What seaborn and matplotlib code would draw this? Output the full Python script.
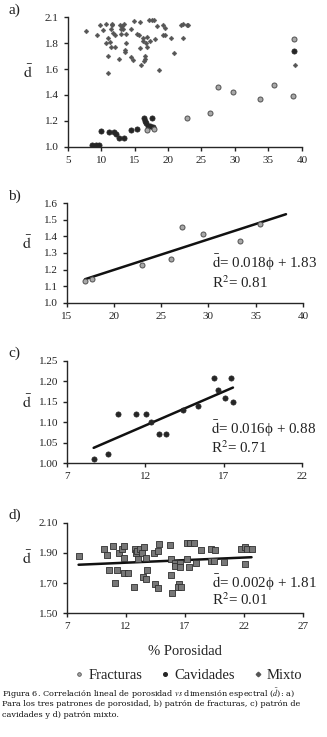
import numpy as np
import pandas as pd
import seaborn as sns
import matplotlib.pyplot as plt
from matplotlib.lines import Line2D

# ---- data ----
# panel a (all patterns)
a_frac_x = [16.9, 17.9, 22.9, 26.3, 27.4, 29.7, 33.7, 35.9, 38.7, 38.85]
a_frac_y = [1.13, 1.14, 1.22, 1.26, 1.46, 1.42, 1.37, 1.48, 1.39, 1.83]
a_cav_x = [8.6, 9.2, 9.7, 10.0, 11.2, 11.9, 12.2, 12.7, 13.4, 14.4, 15.4,
           16.4, 16.5, 16.7, 17.0, 17.3, 17.55, 17.7, 38.85]
a_cav_y = [1.01, 1.01, 1.01, 1.12, 1.11, 1.11, 1.10, 1.07, 1.07, 1.13, 1.14,
           1.22, 1.20, 1.18, 1.16, 1.16, 1.22, 1.15, 1.74]
a_mix_x = [7.8, 9.4, 9.9, 10.3, 10.8, 11.0, 11.0, 11.0, 10.7, 11.3, 11.4, 11.6,
           11.6, 11.5, 11.8, 12.0, 12.1, 12.6, 12.8, 12.9, 13.0, 13.1, 13.3, 13.4,
           13.5, 13.7, 13.7, 13.6, 14.4, 14.5, 14.7, 14.9, 15.3, 15.6, 15.8, 15.8,
           16.0, 16.2, 16.2, 16.4, 16.5, 16.6, 16.7, 16.8, 16.9, 17.1, 17.3, 17.6,
           17.9, 18.0, 18.4, 18.7, 19.2, 19.3, 19.5, 19.5, 20.4, 20.9, 22.0, 22.2,
           22.2, 22.8, 23.0, 38.95]
a_mix_y = [1.89, 1.86, 1.94, 1.90, 1.95, 1.84, 1.70, 1.57, 1.80, 1.81, 1.91, 1.95,
           1.94, 1.77, 1.88, 1.86, 1.77, 1.68, 1.94, 1.91, 1.87, 1.93, 1.91, 1.95,
           1.75, 1.87, 1.80, 1.73, 1.91, 1.69, 1.67, 1.97, 1.87, 1.86, 1.96, 1.76,
           1.63, 1.84, 1.82, 1.66, 1.68, 1.70, 1.80, 1.77, 1.85, 1.98, 1.82, 1.98,
           1.98, 1.83, 1.93, 1.59, 1.86, 1.94, 1.92, 1.86, 1.84, 1.72, 1.94, 1.95,
           1.84, 1.94, 1.94, 1.63]

# panel b: fracturas
frac_x = [16.94, 17.68, 22.92, 26.02, 27.18, 29.4, 33.3, 35.4]
frac_y = [1.133, 1.143, 1.225, 1.264, 1.455, 1.415, 1.374, 1.477]
frac_line_end = 38.2

# panel c: cavidades
cav_x = [8.7, 9.6, 10.25, 11.4, 12.05, 12.35, 12.9, 13.3, 14.4, 15.35, 16.4,
         16.65, 17.1, 17.5, 17.6]
cav_y = [1.01, 1.022, 1.12, 1.12, 1.12, 1.10, 1.072, 1.072, 1.13, 1.14, 1.208,
         1.178, 1.159, 1.208, 1.149]

# panel d: mixto
mix_x = [7.98, 10.15, 10.37, 10.88, 10.57, 11.1, 11.2, 11.44, 11.64, 11.8, 11.83,
         11.8, 12.2, 12.7, 12.79, 12.84, 12.96, 13.04, 13.18, 13.35, 13.46, 13.52,
         13.69, 13.74, 13.8, 14.39, 14.42, 14.72, 14.75, 14.84, 15.76, 15.82, 15.79,
         15.9, 16.16, 16.2, 16.48, 16.58, 16.58, 16.44, 16.64, 17.17, 17.2, 17.34,
         17.45, 17.73, 17.93, 18.4, 19.25, 19.2, 19.5, 19.56, 20.3, 21.78, 22.06,
         22.06, 22.3, 22.65]
mix_y = [1.877, 1.924, 1.888, 1.944, 1.79, 1.70, 1.785, 1.90, 1.926, 1.944, 1.864,
         1.765, 1.765, 1.672, 1.928, 1.897, 1.91, 1.858, 1.924, 1.90, 1.74, 1.937,
         1.727, 1.864, 1.79, 1.90, 1.694, 1.913, 1.666, 1.957, 1.95, 1.858, 1.752,
         1.632, 1.835, 1.816, 1.694, 1.835, 1.804, 1.672, 1.672, 1.968, 1.858, 1.81,
         1.968, 1.968, 1.835, 1.917, 1.924, 1.844, 1.846, 1.917, 1.84, 1.924, 1.937,
         1.83, 1.924, 1.924]

eq_b = [r"$\bar{\mathrm{d}}$= 0.018ϕ + 1.83", r"R$^2$= 0.81"]
eq_c = [r"$\bar{\mathrm{d}}$= 0.016ϕ + 0.88", r"R$^2$= 0.71"]
eq_d = [r"$\bar{\mathrm{d}}$= 0.002ϕ + 1.81", r"R$^2$= 0.01"]

sns.set_style("ticks")
plt.rcParams['font.family'] = ['Liberation Serif', 'DejaVu Serif']
plt.rcParams['mathtext.fontset'] = 'stix'
plt.rcParams['axes.linewidth'] = 1.0
plt.rcParams['xtick.major.size'] = 3
plt.rcParams['ytick.major.size'] = 3

txt = "#222222"
frac_style = dict(color="#a8a8a8", edgecolor="#505050", linewidth=0.7, s=13, marker="o")
cav_style = dict(color="#262626", edgecolor="#262626", linewidth=0.5, s=14, marker="o")
mix_style = dict(color="#555555", edgecolor="#555555", linewidth=0.3, s=6, marker="D")
mixsq_style = dict(color="#777777", edgecolor="#303030", linewidth=0.6, s=14, marker="s")

fig = plt.figure(figsize=(3.27, 7.37), dpi=100)
ax_a = fig.add_axes([0.207, 0.801, 0.716, 0.1756])
ax_b = fig.add_axes([0.204, 0.5893, 0.7226, 0.1349])
ax_c = fig.add_axes([0.205, 0.3714, 0.718, 0.1388])
ax_d = fig.add_axes([0.205, 0.1678, 0.721, 0.1229])

# a)
sns.scatterplot(x=a_mix_x, y=a_mix_y, ax=ax_a, **mix_style)
sns.scatterplot(x=a_cav_x, y=a_cav_y, ax=ax_a, **cav_style)
sns.scatterplot(x=a_frac_x, y=a_frac_y, ax=ax_a, **frac_style)
ax_a.set_xlim(5, 40)
ax_a.set_ylim(1.0, 2.0)
ax_a.set_xticks(np.arange(5, 41, 5))
ax_a.set_yticks([1.0, 1.2, 1.4, 1.6, 1.8, 2.0])
ax_a.set_yticklabels(["1.0", "1.2", "1.4", "1.6", "1.8", "2.1"])


def fit_line(ax, x, y, x_end=None):
    k, b = np.polyfit(x, y, 1)
    xs = np.array([min(x), max(x) if x_end is None else x_end])
    sns.lineplot(x=xs, y=k * xs + b, ax=ax, color="#111111", linewidth=1.8)


# b)
sns.scatterplot(x=frac_x, y=frac_y, ax=ax_b, zorder=3, **frac_style)
fit_line(ax_b, frac_x, frac_y, frac_line_end)
ax_b.set_xlim(15, 40)
ax_b.set_ylim(1.0, 1.6)
ax_b.set_xticks(np.arange(15, 41, 5))
ax_b.set_yticks(np.arange(1.0, 1.61, 0.1))
ax_b.set_yticklabels([f"{v:.1f}" for v in np.arange(1.0, 1.61, 0.1)])

# c)
sns.scatterplot(x=cav_x, y=cav_y, ax=ax_c, zorder=3, **cav_style)
fit_line(ax_c, cav_x, cav_y)
ax_c.set_xlim(7, 22)
ax_c.set_ylim(1.0, 1.25)
ax_c.set_xticks([7, 12, 17, 22])
ax_c.set_yticks(np.arange(1.0, 1.251, 0.05))
ax_c.set_yticklabels([f"{v:.2f}" for v in np.arange(1.0, 1.251, 0.05)])

# d)
sns.scatterplot(x=mix_x, y=mix_y, ax=ax_d, zorder=3, **mixsq_style)
fit_line(ax_d, mix_x, mix_y)
ax_d.set_xlim(7, 27)
ax_d.set_ylim(1.5, 2.1)
ax_d.set_xticks([7, 12, 17, 22, 27])
ax_d.set_yticks([1.5, 1.7, 1.9, 2.1])
ax_d.set_yticklabels(["1.50", "1.70", "1.90", "2.10"])
ax_d.set_xlabel("% Porosidad", fontsize=10.5, color=txt, labelpad=10)

eq_pos = {ax_b: (eq_b, 0.40, 0.20), ax_c: (eq_c, 0.335, 0.15), ax_d: (eq_d, 0.34, 0.147)}
for ax, (lines, y1, y2) in eq_pos.items():
    ax.text(0.615, y1, lines[0], transform=ax.transAxes, fontsize=10.8, color=txt, va="center")
    ax.text(0.615, y2, lines[1], transform=ax.transAxes, fontsize=10.8, color=txt, va="center")

for ax, lab in zip([ax_a, ax_b, ax_c, ax_d], ["a)", "b)", "c)", "d)"]):
    sns.despine(ax=ax)
    ax.tick_params(labelsize=8, labelcolor=txt, color="#222222", width=1.0)
    ax.set_ylabel(r"$\bar{\mathrm{d}}$", rotation=0, fontsize=11.5, color=txt)
    ax.yaxis.set_label_coords(-0.17, 0.5)
    pos = ax.get_position()
    fig.text(0.025, pos.y1 + 0.001, lab, fontsize=11, color=txt, va="bottom")

# legend
handles = [
    Line2D([], [], linestyle="none", marker="o", markersize=2.6, markerfacecolor="#a8a8a8",
           markeredgecolor="#505050", markeredgewidth=0.6, label="Fracturas"),
    Line2D([], [], linestyle="none", marker="o", markersize=2.6, markerfacecolor="#262626",
           markeredgecolor="#262626", label="Cavidades"),
    Line2D([], [], linestyle="none", marker="D", markersize=2.3, markerfacecolor="#555555",
           markeredgecolor="#555555", label="Mixto"),
]
fig.legend(handles=handles, loc="center", bbox_to_anchor=(0.575, 1 - 675 / 737), ncol=3,
           frameon=False, fontsize=10.5, handletextpad=0.2, columnspacing=1.2,
           handlelength=0.8, labelcolor=txt)

# caption
cap = [
    r"Figura 6. Correlación lineal de porosidad $\mathit{vs}$ dimensión espectral ($\bar{d}$): a)",
    "Para los tres patrones de porosidad, b) patrón de fracturas, c) patrón de",
    "cavidades y d) patrón mixto.",
]
for i, line in enumerate(cap):
    fig.text(0.006, 1 - (694 + i * 10.5) / 737, line, fontsize=5.9, color="#111111",
             va="center", family=["DejaVu Serif"])

fig.savefig("out.png", dpi=100)
